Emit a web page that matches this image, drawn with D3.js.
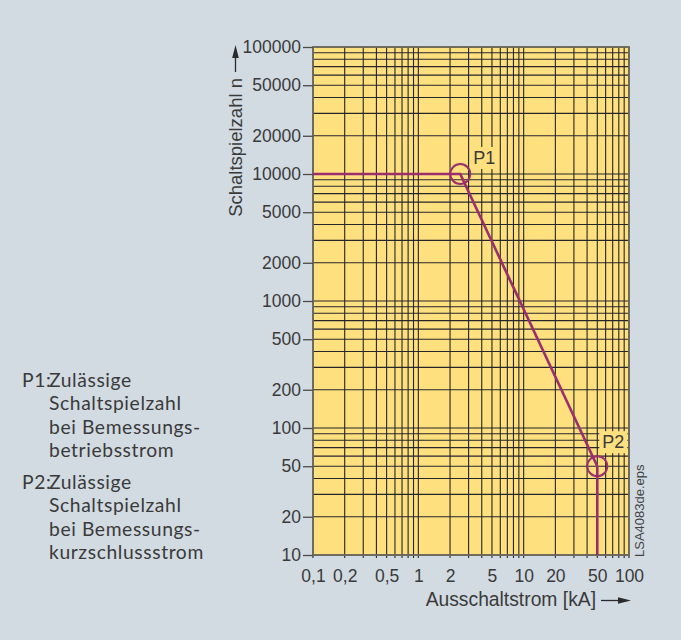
<!DOCTYPE html>
<html>
<head>
<meta charset="utf-8">
<title></title>
<style>
	body { margin: 0; background: #d2dae2; }
	svg { display: block; }
	.tick text { font-family: "Liberation Sans", Arial, sans-serif; font-size: 17.5px; fill: #3a3a3a; }
</style>
</head>
<body>
	<svg id="chart" width="681" height="640"></svg>
<script src="https://cdn.jsdelivr.net/npm/d3@7"></script>
<script>
	// chart values
	const xTicks = [0.1, 0.2, 0.5, 1, 2, 5, 10, 20, 50, 100]
	const xTickLabels = ["0,1", "0,2", "0,5", "1", "2", "5", "10", "20", "50", "100"]
	const yTicks = [10, 20, 50, 100, 200, 500, 1000, 2000, 5000, 10000, 20000, 50000, 100000]
	const curveCurrent = [0.1, 2.5, 50, 50]     // kA
	const curveCycles = [10000, 10000, 50, 10]
	const pointNames = ["P1", "P2"]
	const pointCurrent = [2.5, 50]
	const pointCycles = [10000, 50]
	const legendP1 = ["Zulässige", "Schaltspielzahl", "bei Bemessungs-", "betriebsstrom"]
	const legendP2 = ["Zulässige", "Schaltspielzahl", "bei Bemessungs-", "kurzschlussstrom"]

	const pLeft = 313, pRight = 629, pTop = 47, pBottom = 555
	const svg = d3.select("#chart")

	const x = d3.scaleLog().domain([0.1, 100]).range([pLeft, pRight])
	const y = d3.scaleLog().domain([10, 100000]).range([pBottom, pTop])

	// plot area
	svg.append("rect")
		.attr("x", pLeft).attr("y", pTop)
		.attr("width", pRight - pLeft).attr("height", pBottom - pTop)
		.attr("fill", "#ffe07f")

	// grid (1..9 per decade)
	let grid = svg.append("g").attr("stroke", "#25252a").attr("stroke-width", 1.1)
	grid.selectAll("line.v")
		.data(x.ticks())
		.enter().append("line")
		.attr("class", "v")
		.attr("x1", d => x(d)).attr("x2", d => x(d))
		.attr("y1", pTop).attr("y2", pBottom + 3)
	grid.selectAll("line.h")
		.data(y.ticks())
		.enter().append("line")
		.attr("class", "h")
		.attr("x1", pLeft).attr("x2", pRight)
		.attr("y1", d => y(d)).attr("y2", d => y(d))

	// frame
	svg.append("rect")
		.attr("x", pLeft).attr("y", pTop)
		.attr("width", pRight - pLeft).attr("height", pBottom - pTop)
		.attr("fill", "none").attr("stroke", "#6e6a5c").attr("stroke-width", 1.8)

	// axes
	let yAxis = d3.axisLeft(y)
		.tickValues(yTicks)
		.tickSize(10)
		.tickPadding(2)
		.tickFormat(d3.format("d"))
	svg.append("g")
		.attr("transform", `translate(${pLeft},0)`)
		.call(yAxis)
		.call(g => g.select(".domain").remove())
		.call(g => g.selectAll(".tick line").attr("stroke", "#4a4a4a").attr("stroke-width", 1.3))

	let xAxis = d3.axisBottom(x)
		.tickValues(xTicks)
		.tickSize(0)
		.tickPadding(15)
		.tickFormat((d, i) => xTickLabels[i])
	svg.append("g")
		.attr("transform", `translate(0,${pBottom})`)
		.call(xAxis)
		.call(g => g.select(".domain").remove())

	// curve
	const curve = curveCurrent.map((c, i) => [c, curveCycles[i]])
	let line = d3.line().x(d => x(d[0])).y(d => y(d[1]))
	svg.append("path")
		.datum(curve)
		.attr("d", line)
		.attr("fill", "none")
		.attr("stroke", "#9b2e6c")
		.attr("stroke-width", 2.6)

	svg.selectAll("circle.pt")
		.data(pointNames)
		.enter().append("circle")
		.attr("class", "pt")
		.attr("cx", (d, i) => x(pointCurrent[i]))
		.attr("cy", (d, i) => y(pointCycles[i]))
		.attr("r", 10)
		.attr("fill", "none")
		.attr("stroke", "#9b2e6c")
		.attr("stroke-width", 2)

	// point labels with yellow box
	const labelOffset = [[13, -10], [5, -18]]
	pointNames.forEach((name, i) => {
		let g = svg.append("g")
			.attr("transform", `translate(${x(pointCurrent[i]) + labelOffset[i][0]},${y(pointCycles[i]) + labelOffset[i][1]})`)
		let t = g.append("text")
			.attr("font-family", "Liberation Sans, Arial, sans-serif")
			.attr("font-size", 18)
			.attr("fill", "#3a3a3a")
			.text(name)
		let bb = t.node().getBBox()
		g.insert("rect", "text")
			.attr("x", bb.x - 3).attr("y", bb.y - 1)
			.attr("width", bb.width + 6).attr("height", bb.height + 2)
			.attr("fill", "#ffe07f")
	})

	// axis titles
	svg.append("text")
		.attr("transform", "translate(242,78) rotate(-90)")
		.attr("text-anchor", "end")
		.attr("font-family", "Liberation Sans, Arial, sans-serif")
		.attr("font-size", 18.5)
		.attr("fill", "#3a3a3a")
		.text("Schaltspielzahl n")
	svg.append("line")
		.attr("x1", 235.5).attr("x2", 235.5).attr("y1", 72).attr("y2", 56)
		.attr("stroke", "#2a2a2a").attr("stroke-width", 1.3)
	svg.append("path")
		.attr("d", "M235.5,45 L238.8,58 L232.2,58 Z")
		.attr("fill", "#2a2a2a")

	svg.append("text")
		.attr("x", 596).attr("y", 606)
		.attr("text-anchor", "end")
		.attr("font-family", "Liberation Sans, Arial, sans-serif")
		.attr("font-size", 19.3)
		.attr("fill", "#3a3a3a")
		.text("Ausschaltstrom [kA]")
	svg.append("line")
		.attr("x1", 601).attr("x2", 620).attr("y1", 600.5).attr("y2", 600.5)
		.attr("stroke", "#2a2a2a").attr("stroke-width", 1.3)
	svg.append("path")
		.attr("d", "M631,600.5 L618,597.2 L618,603.8 Z")
		.attr("fill", "#2a2a2a")

	// file tag
	svg.append("text")
		.attr("transform", "translate(644,557) rotate(-90)")
		.attr("font-family", "Liberation Sans, Arial, sans-serif")
		.attr("font-size", 13)
		.attr("fill", "#444")
		.text("LSA4083de.eps")

	// legend
	function legendBlock(label, lines, y0) {
		let g = svg.append("g")
			.attr("font-family", "Lato, Open Sans, sans-serif")
			.attr("font-size", 19.3)
			.attr("letter-spacing", 0.6)
			.attr("fill", "#3a3a3a")
		g.append("text").attr("x", 22).attr("y", y0).text(label)
		g.selectAll("text.l")
			.data(lines)
			.enter().append("text")
			.attr("class", "l")
			.attr("x", 49)
			.attr("y", (d, i) => y0 + i * 23.3)
			.text(d => d)
	}
	legendBlock("P1:", legendP1, 387)
	legendBlock("P2:", legendP2, 489)
</script>
</body>
</html>
